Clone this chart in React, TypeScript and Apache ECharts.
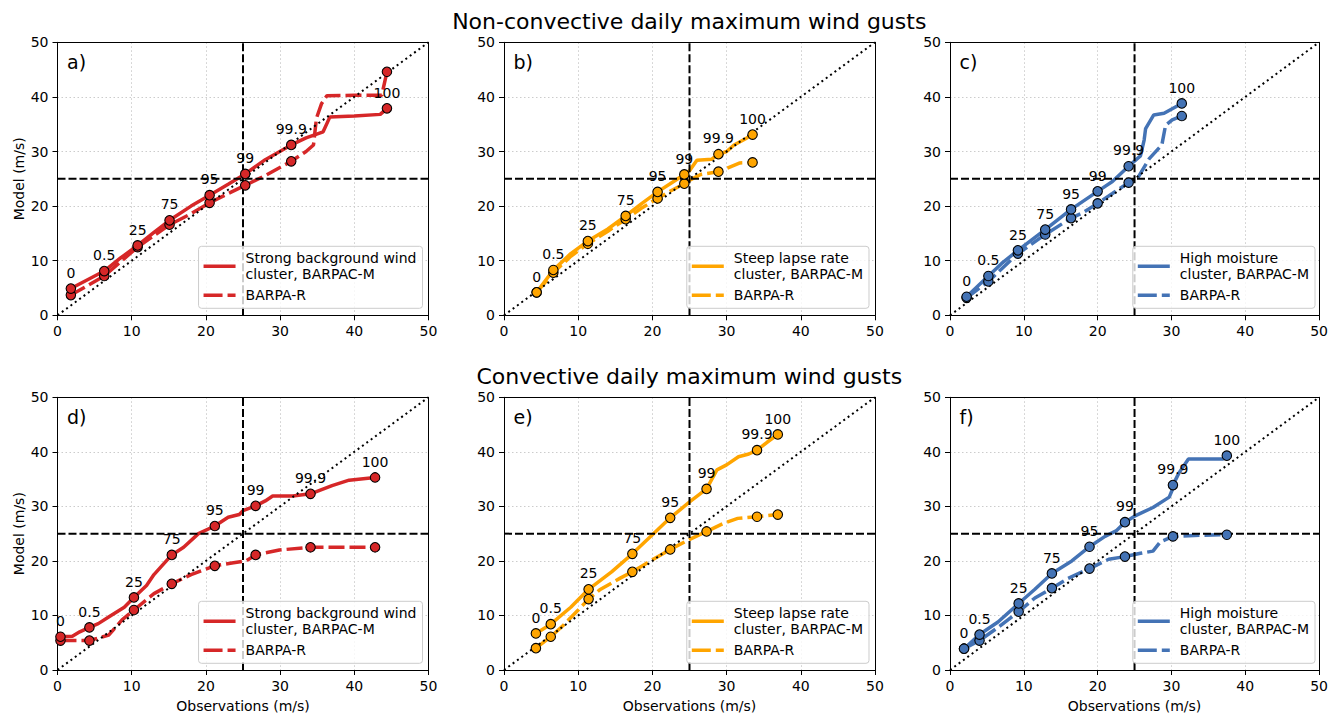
import React, { useEffect, useRef } from "react";
import * as echarts from "echarts";

// ---------- text ----------
const ROW_TITLES = ["Non-convective daily maximum wind gusts", "Convective daily maximum wind gusts"];
const PANEL_LETTERS = ["a)", "b)", "c)", "d)", "e)", "f)"];
const PCT_LABELS = ["0", "0.5", "25", "75", "95", "99", "99.9", "100"];
const CLUSTER_NAMES = [
  "Strong background wind\ncluster, BARPAC-M",
  "Steep lapse rate\ncluster, BARPAC-M",
  "High moisture\ncluster, BARPAC-M",
];
const RCM_NAME = "BARPA-R";
const X_NAME = "Observations (m/s)";
const Y_NAME = "Model (m/s)";
const COLORS = ["#d62728", "#ffa500", "#4473b5"];

// ---------- axes ----------
const AXIS_MIN = 0;
const AXIS_MAX = 50;
const AXIS_STEP = 10;
const THRESHOLD = 25;

// ---------- panel a (non-convective, strong background wind) ----------
const A_OBS = [1.8, 6.3, 10.8, 15.1, 20.5, 25.3, 31.5, 44.4];
const A_M = [4.9, 8.1, 12.8, 17.4, 22.0, 25.9, 31.2, 37.9];
const A_R = [3.7, 7.2, 12.5, 16.6, 20.6, 23.8, 28.2, 44.6];
const A_M_CURVE = [[1.8, 4.9], [6.3, 8.1], [8.5, 10.5], [10.8, 12.8], [13, 15.2], [15.1, 17.4], [18, 20], [20.5, 22.0], [23, 24], [25.3, 25.9], [28, 28.5], [31.5, 31.2], [33.5, 32.5], [35.8, 33.6], [36.7, 36.3], [40, 36.5], [43.5, 36.8], [44.4, 37.9]];
const A_R_CURVE = [[1.8, 3.7], [6.3, 7.2], [8.5, 9.8], [10.8, 12.5], [15.1, 16.6], [18, 18.6], [20.5, 20.6], [23, 22.3], [25.3, 23.8], [28, 25.6], [31.5, 28.2], [33.5, 30], [34.5, 31.2], [34.9, 36.1], [35.6, 38.8], [36.3, 40.2], [40, 40.3], [43.7, 40.3], [44.4, 44.6]];

// ---------- panel b (non-convective, steep lapse rate) ----------
const B_OBS = [4.4, 6.65, 11.3, 16.4, 20.7, 24.3, 28.9, 33.5];
const B_M = [4.2, 8.3, 13.6, 18.2, 22.6, 25.8, 29.5, 33.1];
const B_R = [4.2, 7.8, 13.1, 17.6, 21.4, 24.1, 26.3, 28.0];
const B_M_CURVE = [[4.4, 4.2], [6.65, 8.3], [9, 11.3], [11.3, 13.6], [14, 15.8], [16.4, 18.2], [18.5, 20.4], [20.7, 22.6], [22.5, 24.2], [24.3, 25.8], [25, 26.5], [26, 28.4], [28, 28.6], [28.9, 29.5], [30, 30], [31, 31.2], [32.5, 32.3], [33.5, 33.1]];
const B_R_CURVE = [[4.4, 4.2], [6.65, 7.8], [9, 10.8], [11.3, 13.1], [14, 15.4], [16.4, 17.6], [18.5, 19.6], [20.7, 21.4], [22.5, 22.8], [24.3, 24.1], [25.1, 24.8], [26.5, 25.8], [28.9, 26.3], [29.5, 26.6], [31.8, 27.9], [33.5, 28.0]];

// ---------- panel c (non-convective, high moisture) ----------
const C_OBS = [2.25, 5.2, 9.2, 12.9, 16.4, 20.0, 24.2, 31.4];
const C_M = [3.4, 7.2, 11.9, 15.7, 19.4, 22.7, 27.3, 38.8];
const C_R = [3.2, 6.2, 11.3, 14.8, 17.8, 20.5, 24.3, 36.5];
const C_M_CURVE = [[2.25, 3.4], [5.2, 7.2], [7, 9.5], [9.2, 11.9], [12.9, 15.7], [16.4, 19.4], [20, 22.7], [22, 24.5], [24.2, 27.3], [25.8, 29.2], [26.3, 32.1], [26.5, 34.2], [27.6, 36.7], [29, 37], [31.4, 38.8]];
const C_R_CURVE = [[2.25, 3.2], [5.2, 6.2], [9.2, 11.3], [12.9, 14.8], [16.4, 17.8], [18, 18.8], [20, 20.5], [22, 22.3], [24.2, 24.3], [25.5, 25.3], [27, 28.7], [28.7, 31.2], [29.2, 34.8], [30.1, 35.8], [31.4, 36.5]];

// ---------- panel d (convective, strong background wind) ----------
const D_OBS = [0.4, 4.3, 10.3, 15.4, 21.2, 26.7, 34.1, 42.8];
const D_M = [6.1, 7.8, 13.3, 21.1, 26.4, 30.1, 32.3, 35.3];
const D_R = [5.4, 5.4, 11.0, 15.8, 19.1, 21.1, 22.5, 22.5];
const D_M_CURVE = [[0.4, 6.1], [2, 6.2], [3, 7], [4.3, 7.8], [5.5, 8.5], [7, 9.8], [9, 11.5], [10.3, 13.3], [12, 15.5], [13, 17.5], [14, 19], [15.4, 21.1], [17, 22.5], [19, 25], [21.2, 26.4], [23, 28], [24.5, 28.5], [25, 29.2], [26.7, 30.1], [28, 31], [29, 31.9], [31.7, 31.9], [34.1, 32.3], [37, 33.8], [39.3, 34.8], [42.8, 35.3]];
const D_R_CURVE = [[0.4, 5.4], [4.3, 5.4], [6.9, 6.4], [8.7, 9.2], [10.3, 11], [13, 14], [15.4, 15.8], [18, 17.5], [21.2, 19.1], [23.5, 19.6], [25.4, 20], [26.7, 21.1], [29.9, 22], [34.1, 22.5], [42.8, 22.5]];

// ---------- panel e (convective, steep lapse rate) ----------
const E_OBS = [4.3, 6.3, 11.4, 17.3, 22.4, 27.3, 34.1, 36.9];
const E_M = [6.7, 8.4, 14.8, 21.3, 27.9, 33.2, 40.3, 43.2];
const E_R = [4.0, 6.1, 13.0, 18.0, 22.1, 25.4, 28.1, 28.5];
const E_M_CURVE = [[4.3, 6.7], [6.3, 8.4], [9, 11.5], [11.4, 14.8], [14.5, 18], [17.3, 21.3], [20, 24.8], [22.4, 27.9], [25.1, 30.9], [27.3, 33.2], [28.7, 36.7], [30, 37.6], [31.6, 39.1], [33, 39.6], [34.1, 40.3], [35.5, 41.8], [36.9, 43.2]];
const E_R_CURVE = [[4.3, 4.0], [6.3, 6.1], [8, 8.2], [10, 11.0], [11.4, 13.0], [12.9, 14.7], [15.6, 16.8], [17.3, 18.0], [20, 20.2], [22.4, 22.1], [25.1, 24], [27.3, 25.4], [29.6, 26.9], [31.5, 27.8], [34.1, 28.1], [36.9, 28.5]];

// ---------- panel f (convective, high moisture) ----------
const F_OBS = [1.9, 4.0, 9.3, 13.8, 18.9, 23.7, 30.2, 37.5];
const F_M = [3.9, 6.5, 12.2, 17.7, 22.6, 27.1, 33.9, 39.3];
const F_R = [3.9, 5.4, 10.7, 15.0, 18.6, 20.8, 24.5, 24.8];
const F_M_CURVE = [[1.9, 3.9], [4, 6.5], [6.5, 8.8], [9.3, 12.2], [11.5, 14.8], [13.8, 17.7], [16.5, 20], [18.9, 22.6], [21, 24.5], [22.5, 25.5], [23.7, 27.1], [25, 28.2], [27.5, 29.8], [29.7, 31.7], [30.1, 33], [30.2, 33.9], [31, 36.1], [32.3, 38.7], [37, 38.7], [37.5, 39.3]];
const F_R_CURVE = [[1.9, 3.9], [4, 5.4], [6.5, 7.8], [9.3, 10.7], [11.5, 13.2], [13.8, 15.0], [16, 16.8], [18.9, 18.6], [21.5, 20.3], [23.7, 20.8], [25.8, 21.4], [27.5, 21.8], [28.5, 23.5], [30.2, 24.5], [34, 24.7], [37.5, 24.8]];

const PANELS = [
  { obs: A_OBS, m: A_M, r: A_R, mCurve: A_M_CURVE, rCurve: A_R_CURVE },
  { obs: B_OBS, m: B_M, r: B_R, mCurve: B_M_CURVE, rCurve: B_R_CURVE },
  { obs: C_OBS, m: C_M, r: C_R, mCurve: C_M_CURVE, rCurve: C_R_CURVE },
  { obs: D_OBS, m: D_M, r: D_R, mCurve: D_M_CURVE, rCurve: D_R_CURVE },
  { obs: E_OBS, m: E_M, r: E_R, mCurve: E_M_CURVE, rCurve: E_R_CURVE },
  { obs: F_OBS, m: F_M, r: F_R, mCurve: F_M_CURVE, rCurve: F_R_CURVE },
];

// ---------- layout ----------
const W = 1331;
const H = 714;
const COL_LEFT = [57.5, 504, 950];
const ROW_TOP = [42.3, 397.3];
const GRID_W = 371;
const GRID_H = 273;
const FONT = "DejaVu Sans";

const SOLID_ICON = "path://M0,0H32V3.5H0Z";
const DASH_ICON = "path://M0,0H19V3.5H0ZM24,0H32V3.5H24Z";

function buildOption() {
  const grid: any[] = [];
  const xAxis: any[] = [];
  const yAxis: any[] = [];
  const series: any[] = [];
  const legend: any[] = [];
  const graphic: any[] = [];

  ROW_TITLES.forEach((t, row) => {
    graphic.push({
      type: "text",
      x: COL_LEFT[0] + (COL_LEFT[2] + GRID_W - COL_LEFT[0]) / 2,
      y: ROW_TOP[row] - 21,
      silent: true,
      style: { text: t, fontSize: 22, fontFamily: FONT, fill: "#000", align: "center", verticalAlign: "middle" },
    });
  });

  PANELS.forEach((p, i) => {
    const row = Math.floor(i / 3);
    const col = i % 3;
    const color = COLORS[col];
    const left = COL_LEFT[col];
    const top = ROW_TOP[row];
    grid.push({ left, top, width: GRID_W, height: GRID_H, show: false });

    const axisCommon = {
      type: "value",
      gridIndex: i,
      min: AXIS_MIN,
      max: AXIS_MAX,
      interval: AXIS_STEP,
      axisLine: { show: true, lineStyle: { color: "#000", width: 1 } },
      axisTick: { show: true, length: 5, lineStyle: { color: "#000", width: 1 } },
      axisLabel: { fontSize: 14, color: "#000", margin: 9, fontFamily: FONT },
      splitLine: { show: true, showMinLine: false, showMaxLine: false, lineStyle: { color: "#cccccc", width: 1, type: [1.5, 2.5] } },
      nameTextStyle: { fontSize: 14, color: "#000", fontFamily: FONT },
    };
    xAxis.push({ ...axisCommon, name: row === 1 ? X_NAME : "", nameLocation: "middle", nameGap: 29 });
    yAxis.push({ ...axisCommon, name: col === 0 ? Y_NAME : "", nameLocation: "middle", nameGap: 32 });
    // top and right spines
    xAxis.push({
      type: "value", gridIndex: i, position: "top", min: AXIS_MIN, max: AXIS_MAX, interval: AXIS_STEP,
      axisLine: { show: true, onZero: false, lineStyle: { color: "#000", width: 1 } },
      axisTick: { show: false }, axisLabel: { show: false }, splitLine: { show: false },
    });
    yAxis.push({
      type: "value", gridIndex: i, position: "right", min: AXIS_MIN, max: AXIS_MAX, interval: AXIS_STEP,
      axisLine: { show: true, onZero: false, lineStyle: { color: "#000", width: 1 } },
      axisTick: { show: false }, axisLabel: { show: false }, splitLine: { show: false },
    });
    const xi = i * 2;
    const yi = i * 2;

    const mName = `${CLUSTER_NAMES[col]}|${i}`;
    const rName = `${RCM_NAME}|${i}`;

    // reference lines
    series.push({
      type: "line", xAxisIndex: xi, yAxisIndex: yi, silent: true, symbol: "none", z: 3,
      data: [[AXIS_MIN, AXIS_MIN], [AXIS_MAX, AXIS_MAX]],
      lineStyle: { color: "#000", width: 2, type: [2, 3.4] },
    });
    series.push({
      type: "line", xAxisIndex: xi, yAxisIndex: yi, silent: true, symbol: "none", z: 3,
      data: [[THRESHOLD, AXIS_MIN], [THRESHOLD, AXIS_MAX]],
      lineStyle: { color: "#000", width: 2, type: [8, 3] },
    });
    series.push({
      type: "line", xAxisIndex: xi, yAxisIndex: yi, silent: true, symbol: "none", z: 3,
      data: [[AXIS_MIN, THRESHOLD], [AXIS_MAX, THRESHOLD]],
      lineStyle: { color: "#000", width: 2, type: [8, 3] },
    });

    // quantile curves
    series.push({
      name: mName, type: "line", xAxisIndex: xi, yAxisIndex: yi, silent: true, symbol: "none", z: 2,
      data: p.mCurve, itemStyle: { color }, lineStyle: { color, width: 3.5 },
    });
    series.push({
      name: rName, type: "line", xAxisIndex: xi, yAxisIndex: yi, silent: true, symbol: "none", z: 2,
      data: p.rCurve, itemStyle: { color }, lineStyle: { color, width: 3.5, type: [16, 5] },
    });

    // percentile markers
    series.push({
      type: "scatter", xAxisIndex: xi, yAxisIndex: yi, silent: true, z: 5,
      symbolSize: 9.5,
      data: p.obs.map((x, k) => [x, p.r[k]]),
      itemStyle: { color, borderColor: "#000", borderWidth: 1.1, opacity: 1 },
    });
    series.push({
      type: "scatter", xAxisIndex: xi, yAxisIndex: yi, silent: true, z: 5,
      symbolSize: 9.5,
      data: p.obs.map((x, k) => [x, p.m[k]]),
      itemStyle: { color, borderColor: "#000", borderWidth: 1.1, opacity: 1 },
      label: {
        show: true, position: "top", distance: 3.5, fontSize: 14, color: "#000", fontFamily: FONT,
        formatter: (prm: any) => PCT_LABELS[prm.dataIndex],
      },
    });

    legend.push({
      orient: "vertical",
      right: W - (left + GRID_W) + 6,
      bottom: H - (top + GRID_H) + 7,
      padding: [4, 6, 5, 5],
      itemGap: 5,
      itemWidth: 32,
      itemHeight: 14,
      z: 6,
      selectedMode: false,
      backgroundColor: "rgba(255,255,255,0.8)",
      borderColor: "#cccccc",
      borderWidth: 1,
      borderRadius: 3,
      textStyle: { fontSize: 14, color: "#000", fontFamily: FONT, lineHeight: 16, padding: [0, 0, 0, 5] },
      formatter: (n: string) => n.split("|")[0],
      data: [
        { name: mName, icon: SOLID_ICON, itemStyle: { color } },
        { name: rName, icon: DASH_ICON, itemStyle: { color } },
      ],
    });

    graphic.push({
      type: "text",
      x: left + 9.5,
      y: top + 20,
      silent: true,
      style: { text: PANEL_LETTERS[i], fontSize: 19, fontFamily: FONT, fill: "#000", align: "left", verticalAlign: "middle" },
    });
  });

  return {
    animation: false,
    backgroundColor: "#fff",
    textStyle: { fontFamily: FONT },
    grid,
    xAxis,
    yAxis,
    legend,
    series,
    graphic,
  };
}

export default function App() {
  const ref = useRef<HTMLDivElement>(null);
  useEffect(() => {
    document.body.style.margin = "0";
    if (!ref.current) return;
    const chart = echarts.init(ref.current, undefined, { renderer: "svg" });
    chart.setOption(buildOption() as any);
    return () => chart.dispose();
  }, []);
  return <div ref={ref} style={{ width: W, height: H, position: "absolute", left: 0, top: 0 }} />;
}
